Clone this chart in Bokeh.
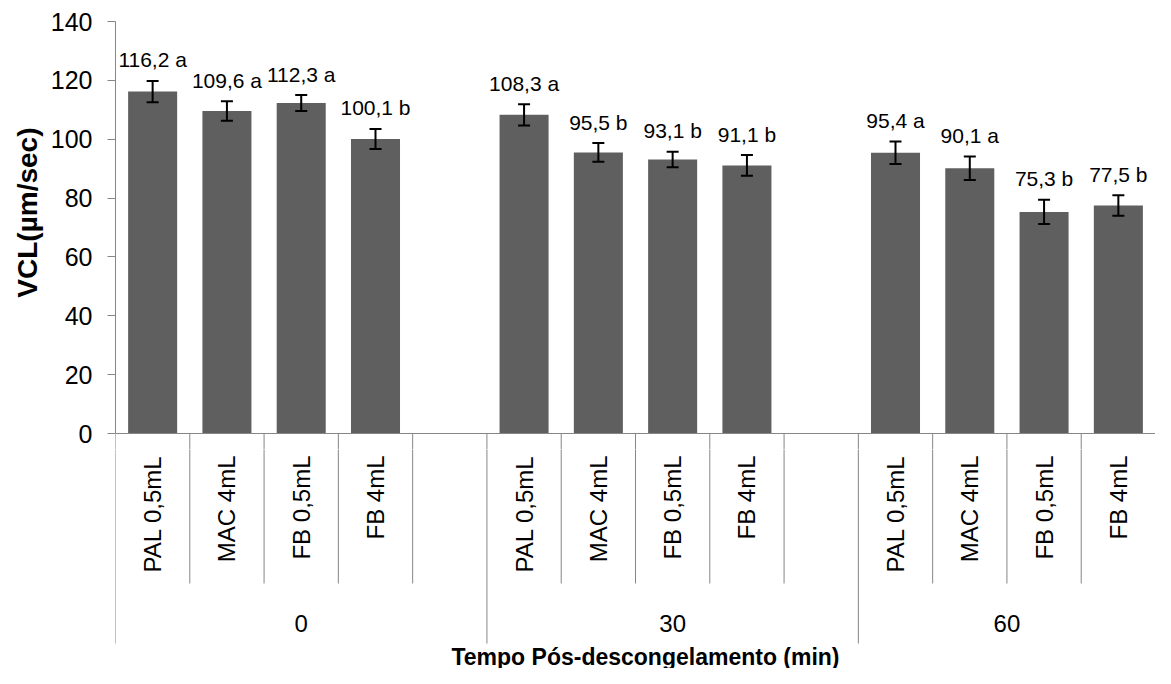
import math
from bokeh.plotting import figure
from bokeh.layouts import column
from bokeh.models import (ColumnDataSource, Range1d, LinearAxis, FixedTicker,
                          Whisker, TeeHead, Title)
from bokeh.core.properties import value
from bokeh.embed import file_html
from bokeh.resources import INLINE

# ---- data ----
groups = ["0", "30", "60"]
treatments = ["PAL 0,5mL", "MAC 4mL", "FB 0,5mL", "FB 4mL"]
vcl_means = [116.2, 109.6, 112.3, 100.1,
             108.3, 95.5, 93.1, 91.1,
             95.4, 90.1, 75.3, 77.5]
vcl_errors = [3.6, 3.3, 2.7, 3.4,
              3.6, 3.2, 2.6, 3.5,
              3.8, 4.0, 4.1, 3.5]
letters = ["a", "a", "a", "b",
           "a", "b", "b", "b",
           "a", "a", "b", "b"]
y_ticks = [0, 20, 40, 60, 80, 100, 120, 140]
x_title = "Tempo Pós-descongelamento (min)"
y_title = "VCL(µm/sec)"

FONT = value("Liberation Sans")
GREY = "#868686"
TOTAL_W, TOTAL_H = 1155, 668
LEFT, TOP = 115, 21
FRAME_W = TOTAL_W - LEFT
PLOT_H = 412            # pixels from 140 down to 0
EXTRA = 16              # pixels kept below y = 0 in the top figure
YMAX = 140
PXU = PLOT_H / YMAX
TOP_FRAME_H = PLOT_H + EXTRA
BOTTOM_H = TOTAL_H - TOP - TOP_FRAME_H

slots_per_group = len(treatments) + 1
n_slots = slots_per_group * len(groups) - 1

xs, labels, cat_names = [], [], []
for gi, g in enumerate(groups):
    for ci, c in enumerate(treatments):
        xs.append(gi * slots_per_group + ci + 0.5)
        cat_names.append(c)
for v, l in zip(vcl_means, letters):
    labels.append(f"{v:.1f}".replace(".", ",") + " " + l)

src = ColumnDataSource(dict(
    x=xs, top=vcl_means,
    upper=[m + e for m, e in zip(vcl_means, vcl_errors)],
    lower=[m - e for m, e in zip(vcl_means, vcl_errors)],
    label=labels, cat=cat_names, zero=[0] * len(xs)))

x_range = Range1d(0, n_slots)

# ---------- top figure: bars ----------
p = figure(frame_width=FRAME_W, frame_height=TOP_FRAME_H,
           output_backend="svg", toolbar_location=None,
           x_range=x_range, y_range=Range1d(-EXTRA / PXU, YMAX),
           x_axis_type=None, y_axis_type=None,
           min_border_left=LEFT, min_border_right=0,
           min_border_top=TOP, min_border_bottom=0)
p.outline_line_color = None
p.background_fill_color = "white"
p.border_fill_color = "white"

yaxis = LinearAxis(ticker=FixedTicker(ticks=y_ticks), bounds=(0, YMAX))
yaxis.axis_line_color = GREY
yaxis.major_tick_line_color = GREY
yaxis.major_tick_out = 8
yaxis.major_tick_in = 0
yaxis.minor_tick_line_color = None
yaxis.major_label_text_font = "Liberation Sans"
yaxis.major_label_text_font_size = "25px"
yaxis.major_label_text_color = "#000000"
yaxis.major_label_standoff = 15
p.add_layout(yaxis, "left")

p.add_layout(Title(text=y_title, align="right", offset=106, standoff=10,
                   text_font="Liberation Sans", text_font_size="28px",
                   text_font_style="bold", text_color="#000000"), "left")

p.vbar(x="x", top="top", width=0.66, bottom=0, source=src,
       fill_color="#5f5f5f", line_color=None)

p.add_layout(Whisker(base="x", upper="upper", lower="lower", source=src,
                     level="overlay", line_color="black", line_width=2,
                     upper_head=TeeHead(size=12, line_width=2, line_color="black"),
                     lower_head=TeeHead(size=12, line_width=2, line_color="black")))

p.text(x="x", y="upper", text="label", source=src, text_font=FONT,
       text_font_size="21px", text_align="center", text_baseline="alphabetic",
       y_offset=-21, text_color="#000000")

# baseline and the top part of the separators
p.segment(x0=[0], y0=[0], x1=[n_slots], y1=[0], line_color=GREY, line_width=1)

short_x, long_x = [], []
for gi in range(len(groups)):
    long_x.append(gi * slots_per_group)
    for k in range(1, slots_per_group):
        b = gi * slots_per_group + k
        if b < n_slots:
            short_x.append(b)
sep_x = short_x + long_x
p.segment(x0=sep_x, y0=[0] * len(sep_x), x1=sep_x,
          y1=[-EXTRA / PXU - 1] * len(sep_x), line_color=GREY, line_width=1)

# ---------- bottom figure: category axis (units = pixels below the top figure) ----------
q = figure(frame_width=FRAME_W, frame_height=BOTTOM_H,
           output_backend="svg", toolbar_location=None,
           x_range=x_range, y_range=Range1d(-BOTTOM_H, 0),
           x_axis_type=None, y_axis_type=None,
           min_border_left=LEFT, min_border_right=0,
           min_border_top=0, min_border_bottom=0)
q.outline_line_color = None
q.background_fill_color = "white"
q.border_fill_color = "white"
q.xgrid.visible = False
q.ygrid.visible = False

q.segment(x0=short_x, y0=[1] * len(short_x), x1=short_x,
          y1=[-(150 - EXTRA)] * len(short_x), line_color=GREY, line_width=1)
q.segment(x0=long_x, y0=[1] * len(long_x), x1=long_x,
          y1=[-(210 - EXTRA)] * len(long_x), line_color=GREY, line_width=1)

q.text(x="x", y="zero", text="cat", source=src, text_font=FONT,
       text_font_size="24px", text_align="right", text_baseline="middle",
       angle=math.pi / 2, y_offset=22 - EXTRA, text_color="#000000")

gx = []
for gi in range(len(groups)):
    start = gi * slots_per_group
    end = min(start + slots_per_group, n_slots)
    gx.append((start + end) / 2)
q.text(x=gx, y=[0] * len(gx), text=groups, text_font=FONT,
       text_font_size="24px", text_align="center", text_baseline="middle",
       y_offset=190 - EXTRA, text_color="#000000")

q.text(x=[n_slots / 2], y=[0], text=[x_title],
       text_font=FONT, text_font_size="23px", text_font_style="bold",
       text_align="center", text_baseline="middle", y_offset=BOTTOM_H - 12,
       x_offset=10, text_color="#000000")

layout = column(p, q, spacing=0)
open("out.html", "w").write(file_html(layout, INLINE))
